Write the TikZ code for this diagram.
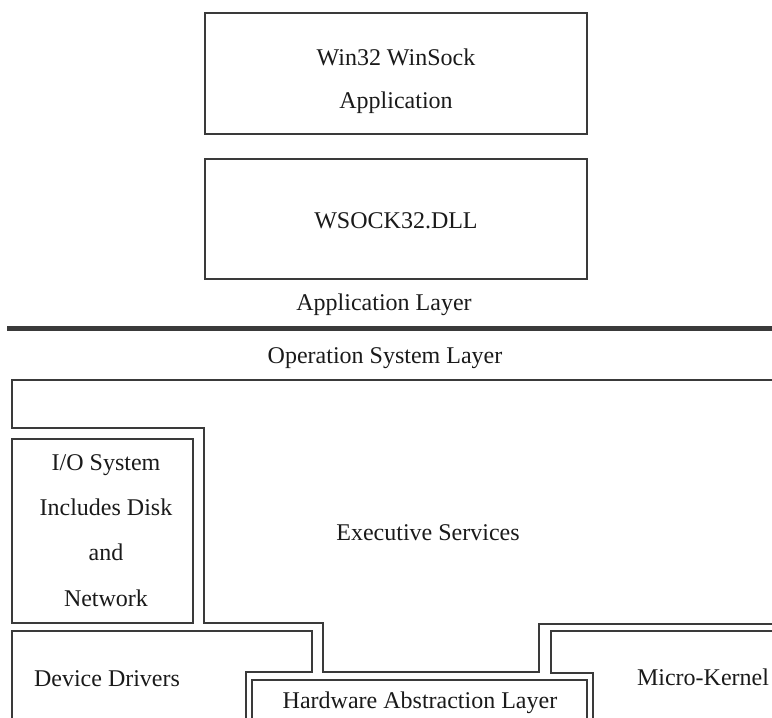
\documentclass[tikz,border=0pt]{standalone}
\usepackage{fontspec}
\setmainfont{Liberation Serif}
\definecolor{ln}{HTML}{3A3A3A}
\definecolor{tx}{HTML}{1A1A1A}
\tikzset{
  boxln/.style={draw=ln, line width=1.2pt},
  lbl/.style={font=\fontsize{24}{44}\selectfont, text=tx, anchor=base, inner sep=0pt},
  boxnode/.style={boxln, minimum width=382pt, inner sep=0pt}
}
\begin{document}
\begin{tikzpicture}[x=1pt,y=-1pt]
\useasboundingbox (0,0) rectangle (772,718);
% application boxes
\node[boxnode, minimum height=121pt] (appbox) at (396,73.5) {};
\node[lbl] (app1) at (396,65) {Win32 WinSock};
\node[lbl] (app2) at (396,108) {Application};
\node[boxnode, minimum height=120pt] (dllbox) at (396,219) {};
\node[lbl] (dll) at (396,228) {WSOCK32.DLL};
% layer divider
\node[lbl] (applayer) at (384,310) {Application Layer};
\coordinate (divL) at (7,328);
\coordinate (divR) at (772,328);
\draw[draw=ln, line width=5pt] (divL) -- (divR);
\node[lbl] (oslayer) at (385,363) {Operation System Layer};
% executive services outline
\draw[boxln] (772,380) -- (12,380) -- (12,428) -- (204,428) -- (204,623) -- (323,623)
  -- (323,672) -- (539,672) -- (539,624) -- (772,624);
\node[lbl] (exec) at (428,540) {Executive Services};
% I/O system
\draw[boxln] (12,439) rectangle (193,623);
\node[lbl] (io1) at (106,470) {I/O System};
\node[lbl] (io2) at (106,515) {Includes Disk};
\node[lbl] (io3) at (106,560) {and};
\node[lbl] (io4) at (106,606) {Network};
% device drivers
\draw[boxln] (12,718) -- (12,631) -- (312,631) -- (312,672) -- (246,672) -- (246,718);
\node[lbl] (dd) at (107,686) {Device Drivers};
% HAL
\draw[boxln] (252,718) -- (252,680) -- (587,680) -- (587,718);
\node[lbl] (hal) at (420,708) {Hardware Abstraction Layer};
% micro-kernel
\draw[boxln] (772,631) -- (551,631) -- (551,673) -- (593,673) -- (593,718);
\node[lbl] (mk) at (703,685) {Micro-Kernel};
\end{tikzpicture}
\end{document}
